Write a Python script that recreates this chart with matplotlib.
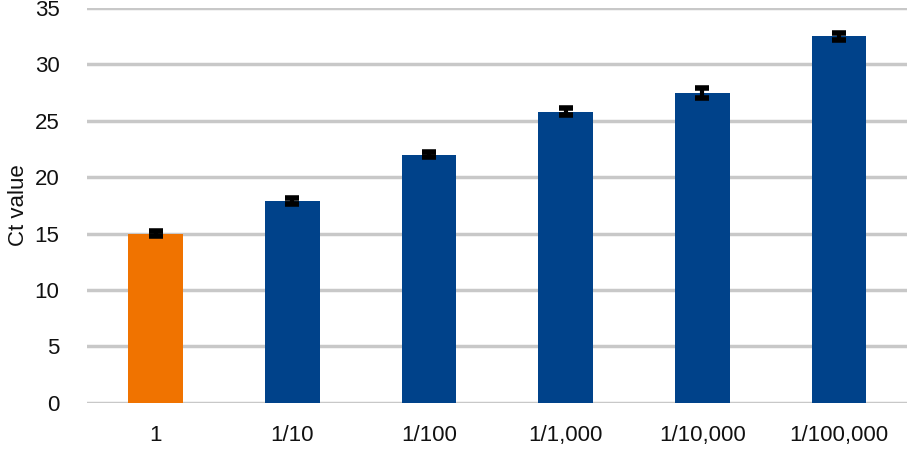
import numpy as np
import matplotlib.pyplot as plt

# Dilution series Ct values
dilutions = ["1", "1/10", "1/100", "1/1,000", "1/10,000", "1/100,000"]
ct_values = [15.0, 17.9, 22.0, 25.8, 27.5, 32.5]
ct_err = [0.25, 0.25, 0.2, 0.3, 0.45, 0.3]
bar_colors = ["#f07300", "#00428a", "#00428a", "#00428a", "#00428a", "#00428a"]

plt.rcParams['font.family'] = ['Liberation Sans', 'DejaVu Sans']

fig, ax = plt.subplots(figsize=(9.09, 4.51), dpi=100)
fig.subplots_adjust(left=0.096, right=0.998, top=0.982, bottom=0.107)

x = np.arange(len(dilutions))
ax.bar(x, ct_values, width=0.4, color=bar_colors, zorder=3)
ax.errorbar(x, ct_values, yerr=ct_err, fmt='none', ecolor='black',
            elinewidth=3, capsize=5, capthick=4, zorder=4)

ax.set_xlim(-0.5, len(dilutions) - 0.5)
ax.set_ylim(0, 35)
ax.set_yticks(np.arange(0, 36, 5))
ax.set_xticks(x)
ax.set_xticklabels(dilutions)
ax.yaxis.grid(True, color='#c8c8c8', linewidth=2.5, zorder=0)
ax.set_axisbelow(True)
for s in ax.spines.values():
    s.set_visible(False)
ax.tick_params(axis='both', length=0, labelsize=16, colors='#111111')
ax.tick_params(axis='y', pad=20)
ax.tick_params(axis='x', pad=16)
ax.set_ylabel("Ct value", fontsize=16, color='#111111', labelpad=4)

fig.savefig("out.png", dpi=100)
